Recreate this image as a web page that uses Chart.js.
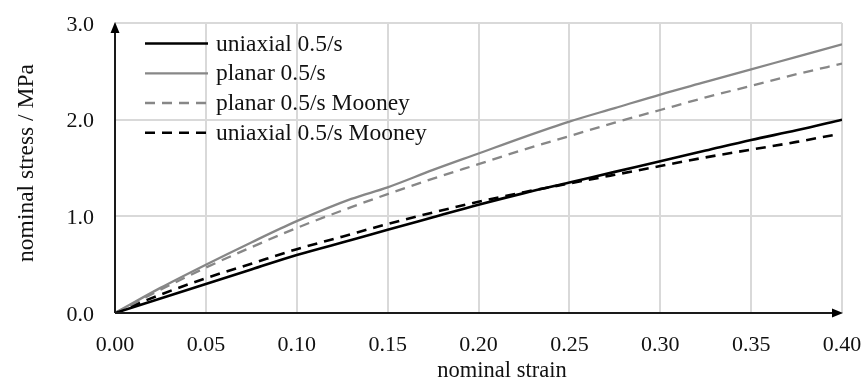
<!DOCTYPE html>
<html>
<head>
<meta charset="utf-8">
<script src="https://cdn.jsdelivr.net/npm/chart.js@4.4.1/dist/chart.umd.min.js"></script>
<style>
  html, body { margin: 0; padding: 0; background: #ffffff; }
  #wrap { position: relative; width: 862px; height: 385px; }
</style>
</head>
<body>
<div id="wrap"><canvas id="c" width="862" height="385"></canvas></div>
<script>
// ---- data ----
const strain = [0, 0.025, 0.05, 0.075, 0.10, 0.13, 0.15, 0.175, 0.20, 0.225, 0.25, 0.275, 0.30, 0.325, 0.35, 0.375, 0.40];
const uniaxial =       [0, 0.15, 0.30, 0.45, 0.60, 0.755, 0.86, 0.99, 1.12, 1.24, 1.35, 1.46, 1.57, 1.68, 1.79, 1.89, 2.00];
const planar =         [0, 0.26, 0.50, 0.73, 0.95, 1.18, 1.30, 1.48, 1.65, 1.82, 1.98, 2.12, 2.26, 2.39, 2.52, 2.65, 2.78];
const planarMooney =   [0, 0.24, 0.47, 0.68, 0.88, 1.095, 1.23, 1.39, 1.54, 1.69, 1.83, 1.97, 2.10, 2.23, 2.35, 2.47, 2.58];
const strainMooneyU = [0, 0.025, 0.05, 0.075, 0.10, 0.125, 0.15, 0.175, 0.20, 0.225, 0.25, 0.275, 0.30, 0.325, 0.35, 0.375, 0.395];
const uniaxialMooney = [0, 0.19, 0.36, 0.51, 0.66, 0.79, 0.92, 1.04, 1.15, 1.25, 1.34, 1.43, 1.52, 1.61, 1.69, 1.77, 1.84];
const seriesLabels = ['uniaxial 0.5/s', 'planar 0.5/s', 'planar 0.5/s Mooney', 'uniaxial 0.5/s Mooney'];
const xTitle = 'nominal strain';
const yTitle = 'nominal stress / MPa';

const FONT = '"Liberation Serif", "Times New Roman", serif';
const pts = (xs, ys) => xs.map((x, i) => ({ x: x, y: ys[i] }));

const GRAY = '#878787';
const BLACK = '#000000';

const extras = {
  id: 'extras',
  afterDraw(chart) {
    const ctx = chart.ctx;
    const xs = chart.scales.x, ys = chart.scales.y;
    const x0 = xs.getPixelForValue(0), y0 = ys.getPixelForValue(0);
    const xEnd = xs.getPixelForValue(0.4), yTop = ys.getPixelForValue(3);
    ctx.save();
    // axis lines with arrows
    ctx.strokeStyle = '#1a1a1a';
    ctx.fillStyle = '#000';
    ctx.lineWidth = 2;
    ctx.beginPath();
    ctx.moveTo(x0, y0); ctx.lineTo(x0, yTop + 8);
    ctx.moveTo(x0, y0); ctx.lineTo(xEnd - 8, y0);
    ctx.stroke();
    ctx.beginPath();
    ctx.moveTo(x0, yTop - 1); ctx.lineTo(x0 - 4.5, yTop + 10); ctx.lineTo(x0 + 4.5, yTop + 10); ctx.closePath();
    ctx.fill();
    ctx.beginPath();
    ctx.moveTo(xEnd + 1, y0); ctx.lineTo(xEnd - 10, y0 - 4.5); ctx.lineTo(xEnd - 10, y0 + 4.5); ctx.closePath();
    ctx.fill();

    // legend inside plot area
    ctx.font = '23.5px ' + FONT;
    ctx.textBaseline = 'middle';
    ctx.textAlign = 'left';
    const rowY = [43.5, 73.3, 103, 132.7];
    chart.data.datasets.forEach((ds, i) => {
      const y = rowY[i];
      ctx.strokeStyle = ds.borderColor;
      ctx.lineWidth = ds.borderWidth;
      ctx.setLineDash(ds.borderDash || []);
      ctx.beginPath();
      ctx.moveTo(145, y); ctx.lineTo(208, y);
      ctx.stroke();
      ctx.setLineDash([]);
      ctx.fillStyle = '#111';
      ctx.fillText(ds.label, 216, y + 1);
    });

    // axis titles
    ctx.fillStyle = '#111';
    ctx.textAlign = 'center';
    ctx.font = '22.5px ' + FONT;
    ctx.fillText(xTitle, 502, 371);
    ctx.font = '23.5px ' + FONT;
    ctx.translate(27, 163);
    ctx.rotate(-Math.PI / 2);
    ctx.fillText(yTitle, 0, 0);
    ctx.restore();
  }
};

new Chart(document.getElementById('c'), {
  type: 'line',
  data: {
    datasets: [
      { label: seriesLabels[0], data: pts(strain, uniaxial), borderColor: BLACK, borderWidth: 2.6 },
      { label: seriesLabels[1], data: pts(strain, planar), borderColor: GRAY, borderWidth: 2.3 },
      { label: seriesLabels[2], data: pts(strain, planarMooney), borderColor: GRAY, borderWidth: 2.3, borderDash: [10, 7] },
      { label: seriesLabels[3], data: pts(strainMooneyU, uniaxialMooney), borderColor: BLACK, borderWidth: 2.6, borderDash: [10, 7] }
    ]
  },
  options: {
    responsive: false,
    animation: false,
    devicePixelRatio: 1,
    layout: { padding: { left: 0, top: 23, right: 20, bottom: 0 } },
    elements: {
      point: { radius: 0 },
      line: { cubicInterpolationMode: 'monotone', fill: false }
    },
    plugins: { legend: { display: false }, tooltip: { enabled: false } },
    scales: {
      x: {
        type: 'linear', min: 0, max: 0.4,
        afterFit(s) { s.height = 72; s.paddingLeft = 0; s.paddingRight = 0; },
        grid: { color: '#d9d9d9', lineWidth: 2, drawTicks: false },
        border: { display: false },
        ticks: { stepSize: 0.05, padding: 19, color: '#111', font: { family: FONT, size: 22 },
                 callback: v => Number(v).toFixed(2), maxRotation: 0 }
      },
      y: {
        min: 0, max: 3,
        afterFit(s) { s.width = 115; s.paddingTop = 0; s.paddingBottom = 0; },
        grid: { color: '#d9d9d9', lineWidth: 2, drawTicks: false },
        border: { display: false },
        ticks: { stepSize: 1, padding: 21, labelOffset: 2, color: '#111', font: { family: FONT, size: 22 },
                 callback: v => Number(v).toFixed(1) }
      }
    }
  },
  plugins: [extras]
});
</script>
</body>
</html>
